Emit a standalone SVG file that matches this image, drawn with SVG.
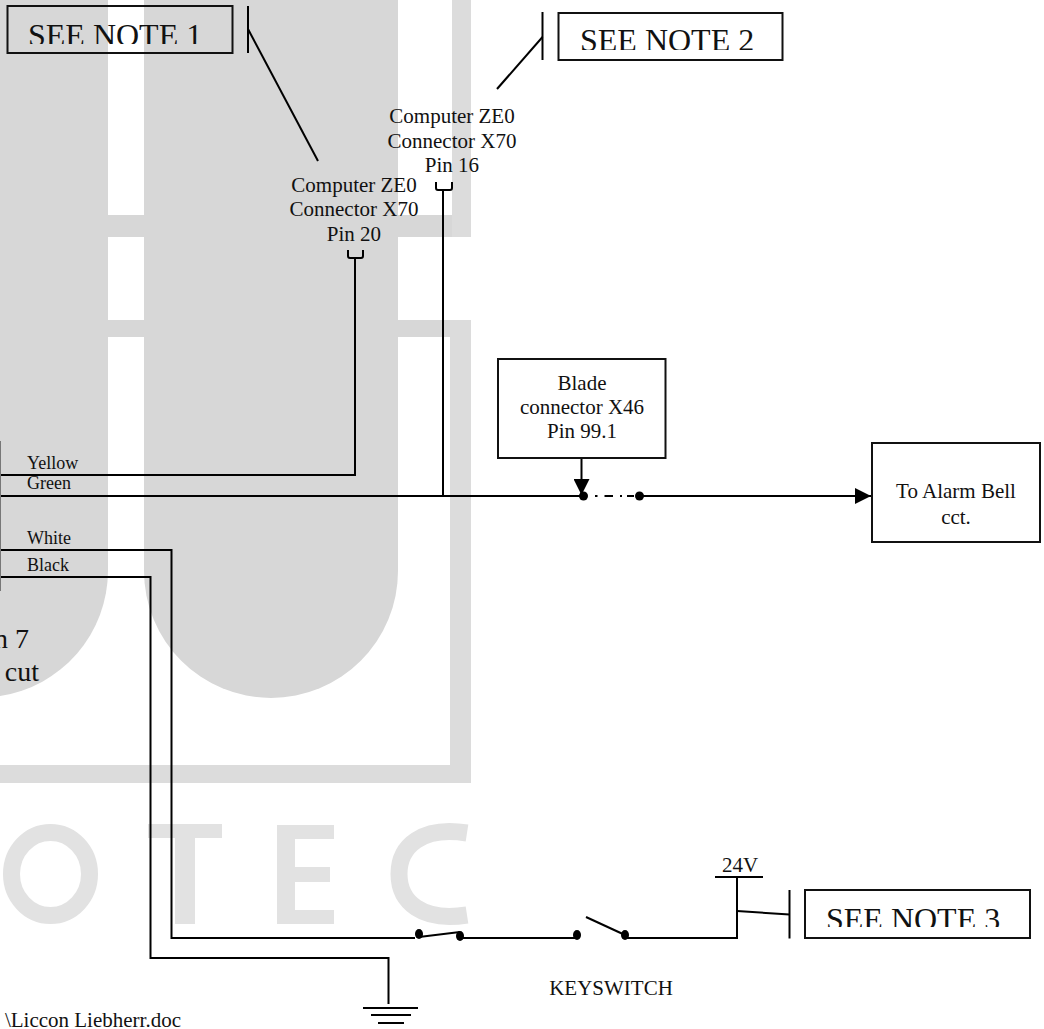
<svg xmlns="http://www.w3.org/2000/svg" width="1044" height="1029" viewBox="0 0 1044 1029">
<style>
text{font-family:"Liberation Serif","Times New Roman",serif;fill:#111;font-size:21px}
.c{text-anchor:middle}
.e{text-anchor:end}
.w{font-size:18px}
.b{font-size:28px}
.n{font-size:32px}
.box{fill:none;stroke:#111;stroke-width:2}
.ln{fill:none;stroke:#000;stroke-width:2}
.wm{fill:#d7d7d7}
.wl{fill:#dcdcdc}
.wt{fill:#e2e2e2}
.ws{fill:none;stroke:#e2e2e2;stroke-width:17}
</style>
<defs>
<clipPath id="c1"><rect x="8" y="7" width="224" height="37"/></clipPath>
<clipPath id="c2"><rect x="560" y="14" width="222" height="36"/></clipPath>
<clipPath id="c3"><rect x="806" y="891" width="223" height="36"/></clipPath>
<marker id="arrow" markerUnits="userSpaceOnUse" markerWidth="17" markerHeight="16" refX="16" refY="8" orient="auto"><path d="M0 0L16 8L0 16Z" fill="#000"/></marker>
</defs>
<rect width="1044" height="1029" fill="#fff"/>
<g id="watermark">
<path class="wm" d="M0 0H108V571A127 127 0 0 1 0 696Z"/>
<path class="wm" d="M144 0H398V571A127 127 0 0 1 144 571Z"/>
<rect class="wm" x="108" y="215" width="36" height="22"/>
<rect class="wm" x="108" y="320" width="36" height="17"/>
<rect class="wm" x="398" y="215" width="54" height="22"/>
<rect class="wm" x="398" y="320" width="52" height="17"/>
<rect class="wl" x="452" y="0" width="19" height="237"/>
<rect class="wl" x="450" y="320" width="21" height="463"/>
<rect class="wl" x="0" y="765" width="471" height="18"/>
<ellipse class="ws" cx="50.500" cy="874" rx="39" ry="41.500"/>
<path class="wt" d="M148 824H222V838H195V924H175V838H148Z"/>
<path class="wt" d="M277 825H334V839H295V867H330V882H295V910H334V924H277Z"/>
<path class="ws" d="M467 833C422 826 399 846 399 874C399 902 422 922 467 915"/>
</g>
<g id="connectors">
<path class="ln" d="M248 29L318 161"/>
<path class="ln" d="M542.500 37L497 89"/>
<path class="ln" d="M348 250V256Q348 258 350 258H361Q363 258 363 256V250"/>
<path class="ln" d="M436 182V188Q436 190 438 190H450Q452 190 452 188V182"/>
<path class="ln" d="M355 258V475H0"/>
<path class="ln" d="M443 190V496"/>
<path class="ln" d="M0 496H583"/>
<path class="ln" d="M0 550H171.500V938H415"/>
<path class="ln" d="M0 577H150.500V958H388.500V1004"/>
<path d="M0.500 441V591" fill="none" stroke="#777" stroke-width="1"/>
<path class="ln" d="M581.500 458V495" marker-end="url(#arrow)"/>
<circle cx="583.500" cy="496" r="4.500"/>
<path class="ln" d="M595 496H597.500M604.500 496H613M620 496H622M627 496H634"/>
<circle cx="639.500" cy="496" r="4.500"/>
<path class="ln" d="M640 496H871" marker-end="url(#arrow)"/>
<ellipse cx="419" cy="934" rx="4" ry="5"/>
<ellipse cx="460" cy="936" rx="4" ry="5"/>
<path class="ln" d="M419 937L460 932"/>
<path class="ln" d="M460 938H577"/>
<ellipse cx="577" cy="935" rx="4" ry="5"/>
<ellipse cx="625" cy="935" rx="4" ry="5"/>
<path class="ln" d="M586 917L625 935"/>
<path class="ln" d="M625 938H737V877"/>
<path class="ln" d="M715 877H763"/>
<path class="ln" d="M737 911L789.500 914.500"/>
<path class="ln" d="M363 1008H418M371 1015H411M378 1023H404"/>
</g>
<g id="note1">
<rect class="box" x="7.500" y="6" width="225" height="47"/>
<path class="ln" d="M248 6V53"/>
<text class="n" x="28" y="46" clip-path="url(#c1)">SEE NOTE 1</text>
</g>
<g id="note2">
<rect class="box" x="558.500" y="13" width="224" height="47"/>
<path class="ln" d="M542.500 12V60"/>
<text class="n" x="580" y="51" clip-path="url(#c2)">SEE NOTE 2</text>
</g>
<g id="note3">
<rect class="box" x="805" y="890" width="225" height="48"/>
<path class="ln" d="M789.500 890V938.500"/>
<text class="n" x="826" y="930" clip-path="url(#c3)">SEE NOTE 3</text>
</g>
<g id="pin20">
<text class="c" x="354" y="192">Computer ZE0</text>
<text class="c" x="354" y="216">Connector X70</text>
<text class="c" x="354" y="241">Pin 20</text>
</g>
<g id="pin16">
<text class="c" x="452" y="123">Computer ZE0</text>
<text class="c" x="452" y="148">Connector X70</text>
<text class="c" x="452" y="172">Pin 16</text>
</g>
<g id="blade">
<rect class="box" x="498" y="359" width="167.500" height="99"/>
<text class="c" x="582" y="390">Blade</text>
<text class="c" x="582" y="414">connector X46</text>
<text class="c" x="582" y="438">Pin 99.1</text>
</g>
<g id="bell">
<rect class="box" x="872" y="443" width="168" height="99"/>
<text class="c" x="956" y="498">To Alarm Bell</text>
<text class="c" x="956" y="524">cct.</text>
</g>
<g id="labels">
<text class="w" x="27" y="469">Yellow</text>
<text class="w" x="27" y="489">Green</text>
<text class="w" x="27" y="544">White</text>
<text class="w" x="27" y="571">Black</text>
<text class="b e" x="29" y="648">n 7</text>
<text class="b e" x="39" y="681">cut</text>
<text class="c" x="611" y="995">KEYSWITCH</text>
<text class="c" x="740" y="872">24V</text>
<text class="e" x="181" y="1027">\Liccon Liebherr.doc</text>
</g>
</svg>
